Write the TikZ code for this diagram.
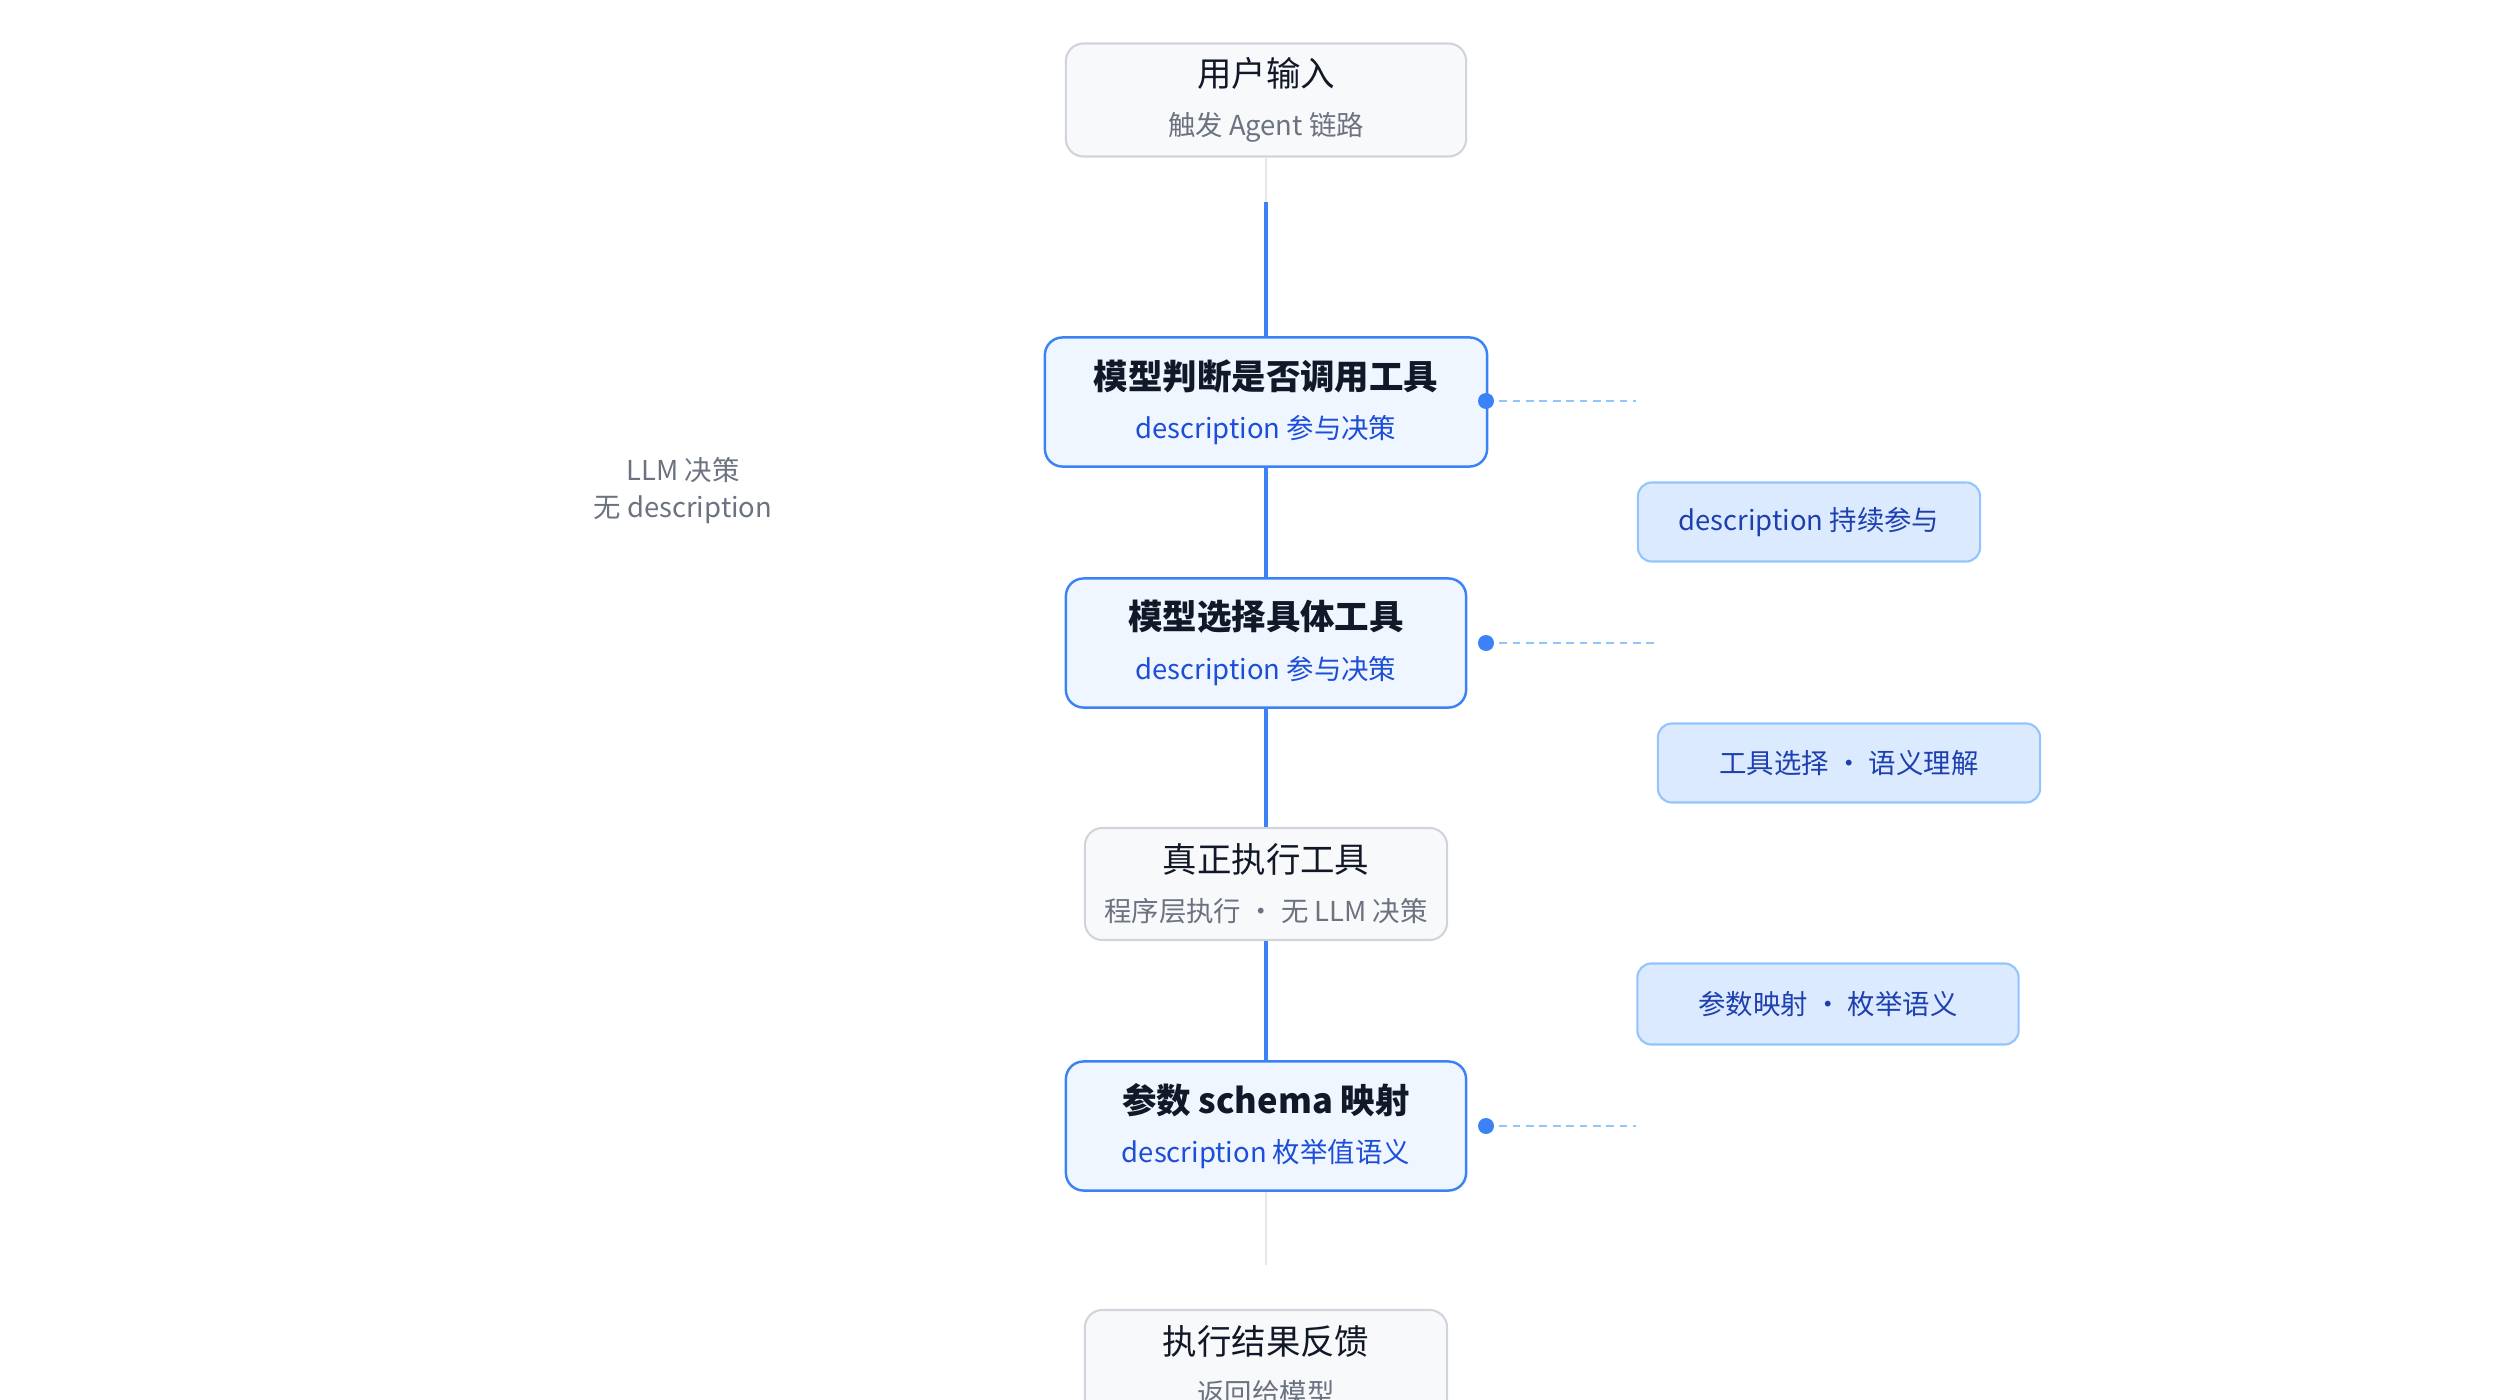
\documentclass[tikz,border=0pt]{standalone}
\usepackage{fontspec}
\setmainfont{Noto Sans CJK SC}
\definecolor{grayfill}{HTML}{F8F9FB}
\definecolor{graydraw}{HTML}{D1D5DB}
\definecolor{grayline}{HTML}{E5E7EB}
\definecolor{bluefill}{HTML}{EFF6FF}
\definecolor{bluedraw}{HTML}{3B82F6}
\definecolor{bluetext}{HTML}{1D4ED8}
\definecolor{notefill}{HTML}{DBEAFE}
\definecolor{notedraw}{HTML}{93C5FD}
\definecolor{notetext}{HTML}{1E40AF}
\definecolor{subtext}{HTML}{6B7280}
\definecolor{maintext}{HTML}{111827}
\tikzset{
    plain box/.style={draw=graydraw, fill=grayfill, line width=0.6pt, rounded corners=5pt,
        align=center, inner sep=0pt},
    llm box/.style={draw=bluedraw, fill=bluefill, line width=0.7pt, rounded corners=5pt,
        align=center, inner sep=0pt},
    note box/.style={draw=notedraw, fill=notefill, line width=0.6pt, rounded corners=4pt,
        text=notetext, font=\fontsize{7.8}{9}\selectfont, inner sep=0pt},
    flow/.style={draw=bluedraw, line width=0.9pt},
    idle/.style={draw=grayline, line width=0.6pt},
    hint/.style={draw=notedraw, line width=0.6pt, dash pattern=on 2.2pt off 1.6pt}
}
\newcommand{\gtitle}[2]{{\fontsize{9.8}{12}\selectfont\color{maintext}#1}\\[2pt]
    {\fontsize{7.8}{9}\selectfont\color{subtext}#2}}
\newcommand{\btitle}[2]{{\fontsize{9.8}{12}\selectfont\bfseries\color{maintext}#1}\\[2pt]
    {\fontsize{7.8}{9}\selectfont\color{bluetext}#2}}
\begin{document}
\begin{tikzpicture}[x=0.01cm, y=-0.01cm]
    \useasboundingbox (0,0) rectangle (2520,1400);

    % main chain
    \node[plain box, minimum width=4cm, minimum height=1.13cm] (input) at (1266,100)
        {\gtitle{用户输入}{触发 Agent 链路}};
    \node[llm box, minimum width=4.42cm, minimum height=1.29cm] (decide) at (1266,402)
        {\btitle{模型判断是否调用工具}{description 参与决策}};
    \node[llm box, minimum width=4cm, minimum height=1.29cm] (choose) at (1266,643)
        {\btitle{模型选择具体工具}{description 参与决策}};
    \node[plain box, minimum width=3.62cm, minimum height=1.12cm] (exec) at (1266,884)
        {\gtitle{真正执行工具}{程序层执行 · 无 LLM 决策}};
    \node[llm box, minimum width=4cm, minimum height=1.29cm] (schema) at (1266,1126)
        {\btitle{参数 schema 映射}{description 枚举值语义}};
    \node[plain box, minimum width=3.62cm, minimum height=1.12cm] (result) at (1266,1366)
        {\gtitle{执行结果反馈}{返回给模型}};

    \coordinate (topmid) at (1266,202);
    \coordinate (lowmid) at (1266,1265);
    \draw[idle] (input) -- (topmid);
    \draw[flow] (topmid) -- (decide);
    \draw[flow] (decide) -- (choose);
    \draw[flow] (choose) -- (exec);
    \draw[flow] (exec) -- (schema);
    \draw[idle] (schema) -- (lowmid);

    % side notes
    \node[align=center, text=subtext, font=\fontsize{7.8}{10.5}\selectfont] (left) at (683,491)
        {LLM 决策\\无 description};
    \node[note box, minimum width=3.42cm, minimum height=0.79cm] (keep) at (1809,522)
        {description 持续参与};
    \node[note box, minimum width=3.82cm, minimum height=0.79cm] (pick) at (1849,763)
        {工具选择 · 语义理解};
    \node[note box, minimum width=3.81cm, minimum height=0.81cm] (enum) at (1828,1004)
        {参数映射 · 枚举语义};

    \coordinate (d1) at (1486,401);
    \coordinate (d2) at (1486,643);
    \coordinate (d3) at (1486,1126);
    \coordinate (e1) at (1636,401);
    \coordinate (e2) at (1658,643);
    \coordinate (e3) at (1636,1126);
    \draw[hint] (d1) -- (e1);
    \draw[hint] (d2) -- (e2);
    \draw[hint] (d3) -- (e3);
    \fill[bluedraw] (d1) circle (8);
    \fill[bluedraw] (d2) circle (8);
    \fill[bluedraw] (d3) circle (8);
\end{tikzpicture}
\end{document}
